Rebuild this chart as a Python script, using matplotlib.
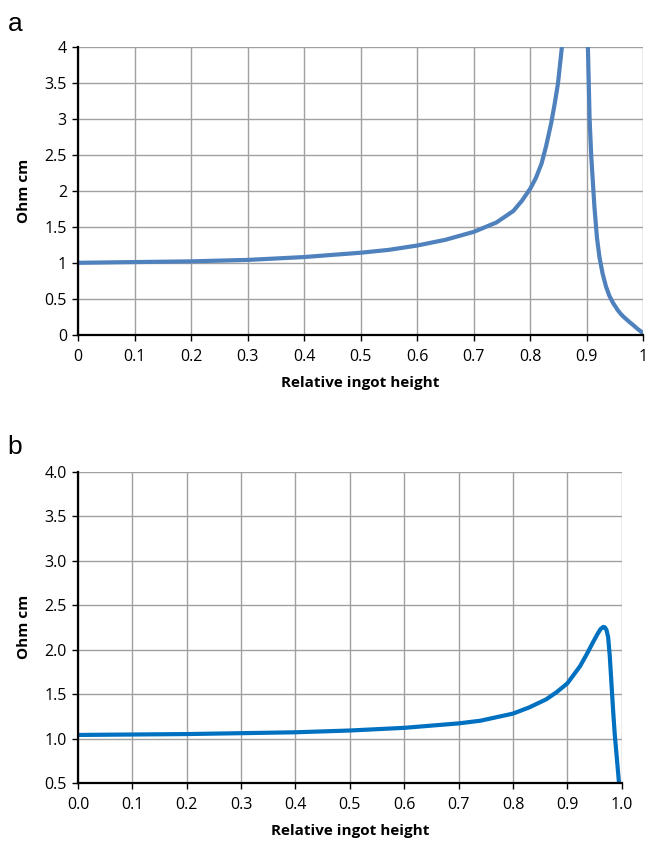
import numpy as np
import matplotlib
matplotlib.use('Agg')
import matplotlib.pyplot as plt

# panel a: resistivity along ingot (two branches, off-scale in between)
x_a = [0.0, 0.1, 0.2, 0.3, 0.4, 0.5, 0.55, 0.6, 0.65, 0.7, 0.74, 0.77,
       0.785, 0.8, 0.81, 0.82, 0.828, 0.837, 0.843, 0.849, 0.856, 0.862,
       np.nan,
       0.898, 0.902, 0.905, 0.908, 0.9135, 0.918, 0.9224, 0.928, 0.934,
       0.94, 0.947, 0.955, 0.96, 0.965, 0.97, 0.975, 0.982, 0.99, 1.0]
y_a = [1.00, 1.01, 1.02, 1.04, 1.08, 1.14, 1.18, 1.24, 1.32, 1.43, 1.56, 1.72,
       1.86, 2.03, 2.18, 2.38, 2.62, 2.94, 3.2, 3.49, 4.0, 4.6,
       np.nan,
       4.6, 4.0, 3.0, 2.47, 1.78, 1.35, 1.08, 0.85, 0.67,
       0.54, 0.435, 0.34, 0.29, 0.25, 0.215, 0.18, 0.135, 0.08, 0.02]

# panel b
x_b = [0.0, 0.1, 0.2, 0.3, 0.4, 0.5, 0.6, 0.7, 0.74, 0.8, 0.83, 0.861,
       0.88, 0.9, 0.923, 0.935, 0.947, 0.955, 0.961, 0.966, 0.969, 0.972,
       0.975, 0.978, 0.981, 0.984, 0.987, 0.991, 0.995]
y_b = [1.04, 1.045, 1.05, 1.06, 1.07, 1.09, 1.12, 1.17, 1.20, 1.28, 1.35, 1.44,
       1.52, 1.62, 1.81, 1.94, 2.08, 2.17, 2.23, 2.255, 2.25, 2.22,
       2.14, 1.93, 1.63, 1.33, 1.06, 0.78, 0.5]

xticks = np.arange(0, 1.01, 0.1)
xlabels_a = ['0', '0.1', '0.2', '0.3', '0.4', '0.5', '0.6', '0.7', '0.8', '0.9', '1']
yticks_a = np.arange(0, 4.01, 0.5)
ylabels_a = ['0', '0.5', '1', '1.5', '2', '2.5', '3', '3.5', '4']
yticks_b = np.arange(0.5, 4.01, 0.5)

plt.rcParams['font.family'] = ['Open Sans', 'DejaVu Sans']

fig = plt.figure(figsize=(6.5, 8.44), dpi=100)
ax1 = fig.add_axes([0.12, 0.6034, 0.8697, 0.3409])
ax2 = fig.add_axes([0.12, 0.0723, 0.8365, 0.3688])


def style(ax):
    ax.grid(True, color='#a0a0a0', linewidth=1.0)
    ax.set_axisbelow(True)
    for s in ['top', 'right']:
        ax.spines[s].set_visible(False)
    for s in ['left', 'bottom']:
        ax.spines[s].set_linewidth(1.6)
        ax.spines[s].set_zorder(5)
    ax.tick_params(direction='out', length=4, width=1, labelsize=11.5)
    ax.tick_params(axis='x', pad=6)
    ax.tick_params(axis='y', pad=4)
    ax.set_xlabel('Relative ingot height', fontsize=11, fontweight='bold',
                  labelpad=8)
    ax.set_ylabel('Ohm cm', fontsize=11, fontweight='bold', labelpad=10)


ax1.plot(x_a, y_a, color='#4F81BD', linewidth=3.0, clip_on=True,
         solid_capstyle='round', solid_joinstyle='round', zorder=3)
ax1.set_xlim(0, 1)
ax1.set_ylim(0, 4)
ax1.set_xticks(xticks)
ax1.set_xticklabels(xlabels_a)
ax1.set_yticks(yticks_a)
ax1.set_yticklabels(ylabels_a)
style(ax1)

ax2.plot(x_b, y_b, color='#0070C0', linewidth=3.0, clip_on=True,
         solid_capstyle='round', solid_joinstyle='round', zorder=3)
ax2.set_xlim(0, 1)
ax2.set_ylim(0.5, 4.0)
ax2.set_xticks(xticks)
ax2.set_xticklabels(['%.1f' % v for v in xticks])
ax2.set_yticks(yticks_b)
ax2.set_yticklabels(['%.1f' % v for v in yticks_b])
style(ax2)

fig.text(0.012, 0.963, 'a', fontsize=19, family='Liberation Sans')
fig.text(0.012, 0.462, 'b', fontsize=19, family='Liberation Sans')

fig.savefig('out.png', dpi=100)
